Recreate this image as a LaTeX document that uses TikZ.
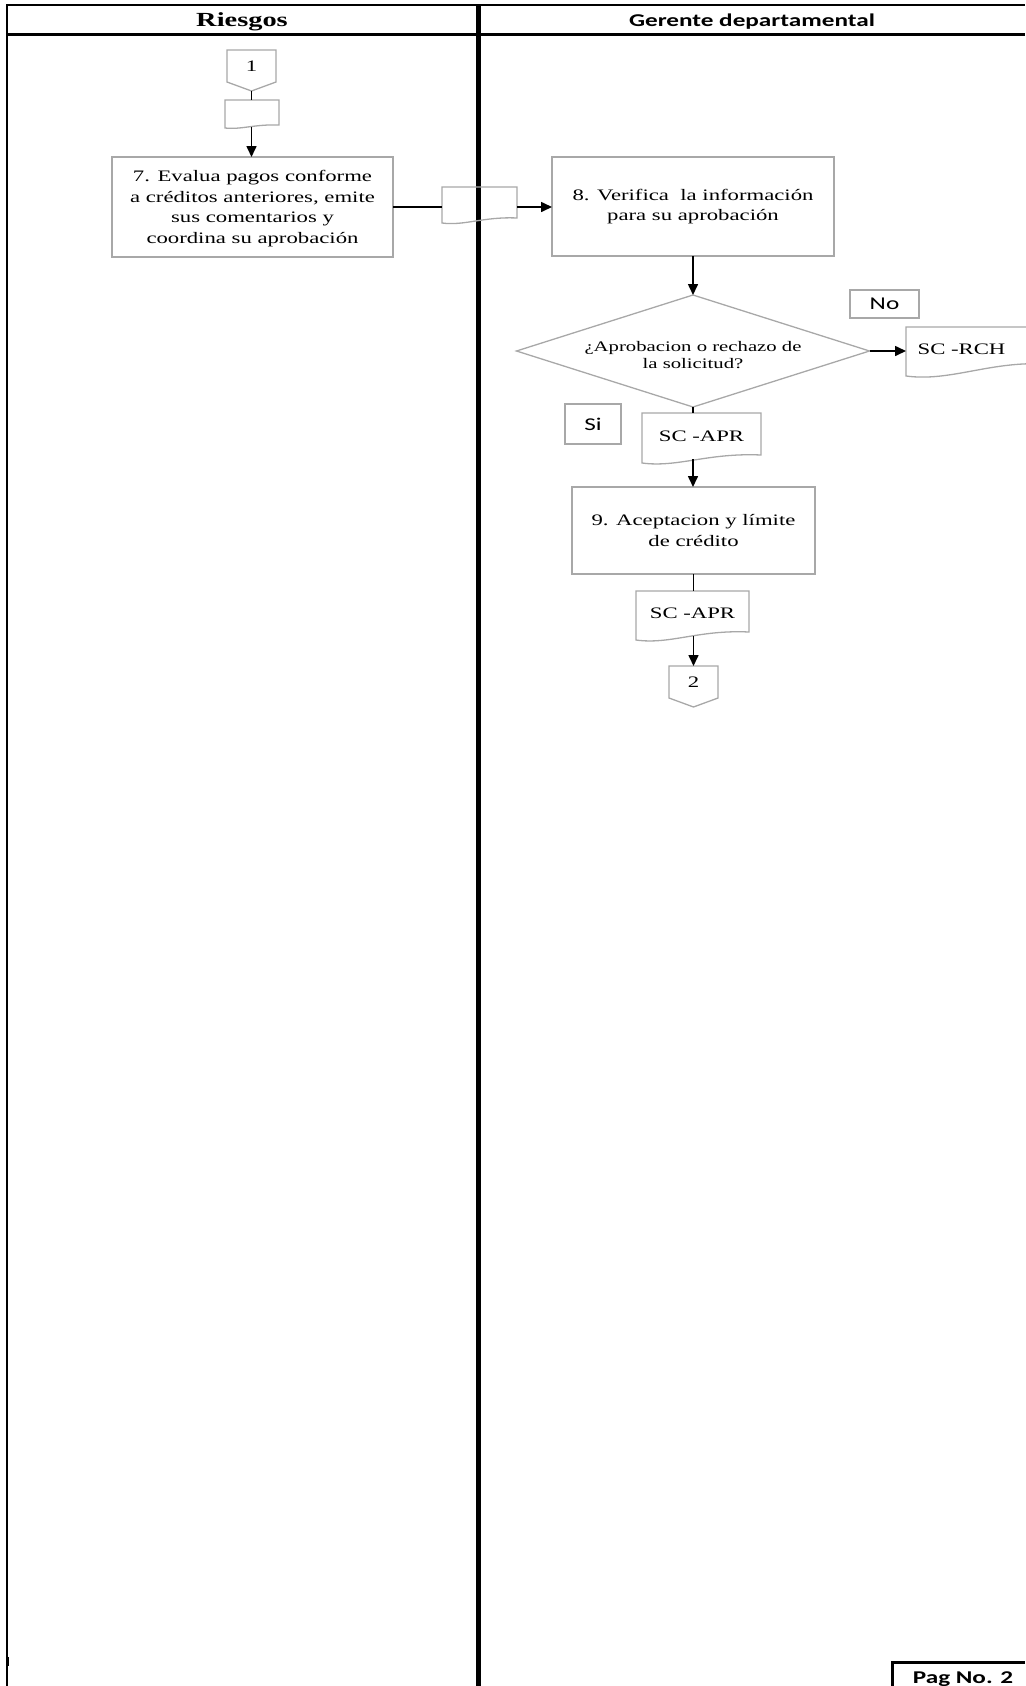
\documentclass[tikz,border=0pt]{standalone}
\usepackage{fontspec}
\usetikzlibrary{arrows.meta,calc}
\newfontfamily\bodyserif[FakeStretch=1.42]{Liberation Serif}
\newfontfamily\bodysans[FakeStretch=1.4]{Carlito}
\definecolor{outlinegray}{RGB}{168,168,168}

% document symbol: name, left x, top y, right x, right-bottom y, left-bottom y, text
\newcommand{\docnode}[7]{%
  \draw[outl] (#2,#3) -- (#4,#3) -- (#4,#5)
    .. controls ({#2+0.55*(#4-#2)},{#5-0.3*(#6-#5)}) and ({#2+0.3*(#4-#2)},{#6+0.6*(#6-#5)}) .. (#2,#6) -- cycle;
  \node[shell, serifbody, minimum width={#4-#2}, minimum height={(#5+#6)/2-#3}]
    (#1) at ({(#2+#4)/2},{(#3+(#5+#6)/2)/2}) {#7};
}
% off-page connector: name, left x, top y, right x, bottom of sides, tip y, text
\newcommand{\offpage}[7]{%
  \draw[outl] (#2,#3) -- (#4,#3) -- (#4,#5) -- ({(#2+#4)/2},#6) -- (#2,#5) -- cycle;
  \node[shell, serifbody, text depth=8pt, minimum width={#4-#2}, minimum height={#6-#3}]
    (#1) at ({(#2+#4)/2},{(#3+#6)/2}) {#7};
}

\begin{document}
\begin{tikzpicture}[x=1pt,y=-1pt,
  outl/.style={draw=outlinegray, line width=1.3pt},
  shell/.style={inner sep=0pt, outer sep=0pt, align=center},
  serifbody/.style={font=\bodyserif\fontsize{16}{20.7}\selectfont},
  serifsmall/.style={font=\bodyserif\fontsize{14.6}{17}\selectfont},
  sanslabel/.style={font=\bodysans\fontsize{18}{20}\selectfont},
  stepbox/.style={shell, outl, rectangle, serifbody},
  tagbox/.style={shell, outl, rectangle, sanslabel},
  flow/.style={line width=1.6pt, draw=black},
  arrow/.style={flow, -{Triangle[length=11pt,width=10pt]}},
]
\useasboundingbox (0,0) rectangle (1025,1686);

% swimlane frame
\draw[line width=2pt] (6,5.5) -- (1025,5.5);
\draw[line width=2pt] (7,4.5) -- (7,1686);
\draw[line width=2.8pt] (6,34.5) -- (1025,34.5);
\draw[line width=4.5pt] (478.5,4.5) -- (478.5,1686);
\draw[line width=3pt] (7,1657) -- (7,1666);

% lane titles
\node[shell, anchor=base, font=\bodyserif\bfseries\fontsize{20}{24}\selectfont] (laneA) at (242,26.7) {Riesgos};
\node[shell, anchor=base, font=\bodysans\bfseries\fontsize{18}{22}\selectfont] (laneB) at (752,26.7) {Gerente departamental};

% page tag
\draw[line width=3pt] (892,1686) -- (892,1662) -- (1025,1662);
\node[shell, anchor=base, font=\bodysans\bfseries\fontsize{18}{22}\selectfont] (pag) at (963,1683) {Pag No. 2};

% Riesgos lane
\offpage{c1}{227}{50}{276}{82}{91}{1}
\docnode{dA}{225}{100}{279}{125}{128}{}
\node[stepbox, minimum width=281, minimum height=100, text depth=-1pt] (p7) at (252.5,207)
  {7. Evalua pagos conforme\\a créditos anteriores, emite\\sus comentarios y\\coordina su aprobación};

% hand-over document on the lane border
\docnode{dB}{442}{187}{517}{218}{223}{}

% Gerente lane
\node[stepbox, minimum width=282, minimum height=99] (p8) at (693,206.5)
  {8. Verifica\ \ la información\\para su aprobación};

\node[shell, serifsmall, minimum width=353, minimum height=112, text depth=0pt, text height=34pt] (dec) at (693,351)
  {¿Aprobacion o rechazo de\\la solicitud?};
\draw[outl] (dec.north) -- (dec.east) -- (dec.south) -- (dec.west) -- cycle;

\node[tagbox, minimum width=69, minimum height=28] (tNo) at (884.5,304) {No};
\node[tagbox, minimum width=56, minimum height=40] (tSi) at (593,424) {Si};

% rejected request document (runs past the right edge)
\draw[outl] (906,327) -- (1045,327) -- (1045,364)
  .. controls (990,361) and (950,382) .. (906,376) -- cycle;
\node[shell, serifbody, minimum width=111, minimum height=44] (dRCH) at (961.5,349) {SC -RCH};

\docnode{dAPR}{642}{413}{761}{455}{463}{SC -APR}
\node[stepbox, minimum width=243, minimum height=87] (p9) at (693.5,530.5)
  {9. Aceptacion y límite\\de crédito};
\docnode{dAPRb}{636}{591}{749}{632}{640}{SC -APR}
\offpage{c2}{669}{666}{718}{698}{707}{2}

% connectors
\draw[flow] (c1.south) -- (c1.south |- dA.north);
\draw[arrow] (c1.south |- dA.south) -- (c1.south |- p7.north);
\draw[flow] (p7.east) -- (p7.east -| dB.west);
\draw[arrow] (p7.east -| dB.east) -- (p7.east -| p8.west);
\draw[arrow] (p8.south) -- (dec.north);
\draw[arrow] (dec.east) -- (dec.east -| dRCH.west);
\draw[flow] (dec.south) -- (dec.south |- dAPR.north);
\draw[arrow] (dec.south |- dAPR.south) -- (dec.south |- p9.north);
\draw[flow] (p9.south) -- (p9.south |- dAPRb.north);
\draw[arrow] (c2.north |- dAPRb.south) -- (c2.north);
\end{tikzpicture}
\end{document}
